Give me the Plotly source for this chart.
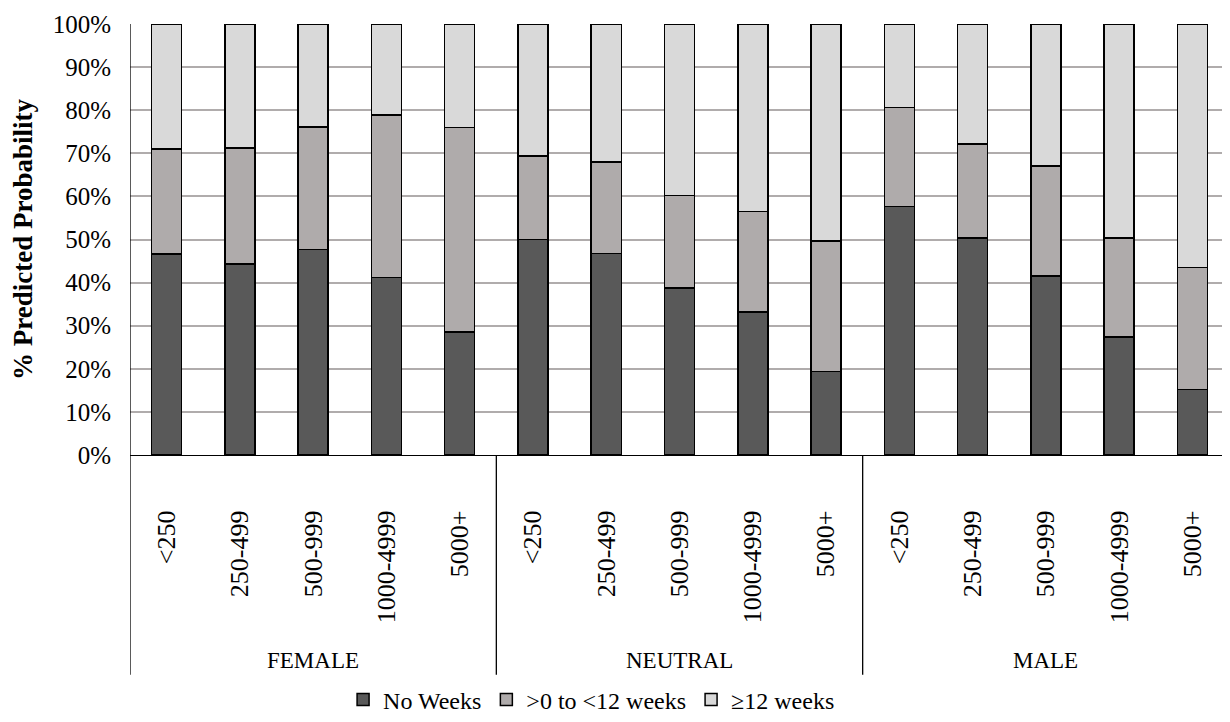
import plotly.graph_objects as go

groups = ["FEMALE", "NEUTRAL", "MALE"]
sizes = ["<250", "250-499", "500-999", "1000-4999", "5000+"]
series_names = ["No Weeks", ">0 to <12 weeks", "\u226512 weeks"]

no_weeks = [46.6, 44.3, 47.7, 41.2, 28.5,
            50.0, 46.7, 38.7, 33.2, 19.4,
            57.7, 50.4, 41.5, 27.4, 15.2]
under_12 = [24.4, 26.9, 28.4, 37.7, 47.5,
            19.4, 21.3, 21.5, 23.3, 30.2,
            22.9, 21.8, 25.6, 23.0, 28.3]
over_12 = [29.0, 28.8, 23.9, 21.1, 24.0,
           30.6, 32.0, 39.8, 43.5, 50.4,
           19.4, 27.8, 32.9, 49.6, 56.5]

colors = ["#595959", "#AFABAB", "#D9D9D9"]
FONT = "Liberation Serif, Times New Roman, serif"

n = len(groups) * len(sizes)
xs = list(range(n))
ticktext = sizes * len(groups)

fig = go.Figure()
for name, vals, col in zip(series_names, [no_weeks, under_12, over_12], colors):
    fig.add_trace(go.Bar(
        x=xs, y=[v / 100 for v in vals], name=name,
        marker=dict(color=col, line=dict(color="#000000", width=1.5)),
    ))

bottom = -0.51
shapes = []
shapes.append(dict(type="line", xref="x", yref="paper", x0=-0.5, x1=-0.5,
                   y0=bottom, y1=1, line=dict(color="#000000", width=1.3)))
for k in range(1, len(groups) + 1):
    xb = k * len(sizes) - 0.5
    shapes.append(dict(type="line", xref="x", yref="paper", x0=xb, x1=xb,
                       y0=bottom, y1=0, line=dict(color="#000000", width=1.3)))

annotations = []
for i, g in enumerate(groups):
    annotations.append(dict(text=g, xref="x", yref="paper",
                            x=i * len(sizes) + (len(sizes) - 1) / 2, y=-0.476,
                            showarrow=False, yanchor="middle", xanchor="center",
                            font=dict(family=FONT, size=23, color="#000000")))

fig.update_layout(
    barmode="stack",
    bargap=0.59,
    width=1230, height=722,
    margin=dict(l=122, r=9, t=16, b=275, autoexpand=False),
    paper_bgcolor="white", plot_bgcolor="white",
    font=dict(family=FONT, size=23, color="#000000"),
    showlegend=True,
    legend=dict(orientation="h", x=0.42, xanchor="center", y=-0.568, yanchor="middle",
                yref="paper", font=dict(family=FONT, size=24), traceorder="normal",
                itemwidth=30, tracegroupgap=0),
    shapes=shapes,
    annotations=annotations,
    xaxis=dict(
        tickvals=xs, ticktext=ticktext, tickangle=-90,
        range=[-0.5, n - 0.5], showgrid=False, zeroline=False,
        showline=True, linecolor="#000000", linewidth=1.3,
        ticks="", ticklabelstandoff=44, automargin=False,
        tickfont=dict(family=FONT, size=26),
    ),
    yaxis=dict(
        range=[0, 1], tickvals=[i / 10 for i in range(11)],
        tickformat=".0%", showgrid=True, gridcolor="#B0ACAC", gridwidth=1.5,
        zeroline=False, showline=False, ticks="", ticklabelstandoff=18,
        automargin=False,
        tickfont=dict(family=FONT, size=25),
        title=dict(text="<b>% Predicted Probability</b>", standoff=14,
                   font=dict(family=FONT, size=27)),
    ),
)

fig.write_html("out.html")
